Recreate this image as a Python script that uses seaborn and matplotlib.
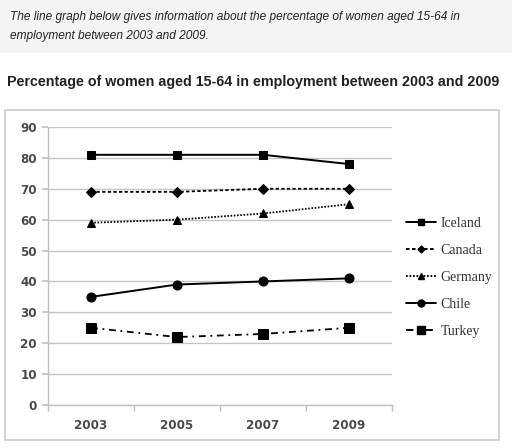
import matplotlib
matplotlib.use("Agg")
import matplotlib.pyplot as plt
import matplotlib.patches as mpatches
from matplotlib.lines import Line2D
import seaborn as sns
import pandas as pd

years = [2003, 2005, 2007, 2009]
countries = ["Iceland", "Canada", "Germany", "Chile", "Turkey"]
iceland = [81, 81, 81, 78]
canada = [69, 69, 70, 70]
germany = [59, 60, 62, 65]
chile = [35, 39, 40, 41]
turkey = [25, 22, 23, 25]

values = [iceland, canada, germany, chile, turkey]
rows = []
for c, v in zip(countries, values):
    for y, p in zip(years, v):
        rows.append({"year": y, "pct": p, "country": c})
df = pd.DataFrame(rows)

markers = {"Iceland": "s", "Canada": "D", "Germany": "^", "Chile": "o", "Turkey": "s"}
styles = {"Iceland": "-", "Canada": (0, (1.8, 1.3)), "Germany": (0, (0.9, 0.9)),
          "Chile": "-", "Turkey": (0, (3.8, 2.6, 1, 2.6))}
msize = {"Iceland": 5.5, "Canada": 5, "Germany": 6, "Chile": 6.5, "Turkey": 7}

sns.set_theme(style="white")
plt.rcParams["font.family"] = ["DejaVu Sans"]

fig = plt.figure(figsize=(5.12, 4.48), dpi=100)

# grey band with the task text
fig.patches.append(mpatches.Rectangle((0, 0.882), 1, 0.118, transform=fig.transFigure,
                                      facecolor="#f4f4f4", edgecolor="none", zorder=0))
fig.text(0.02, 0.962, "The line graph below gives information about the percentage of women aged 15-64 in",
         family="Liberation Sans", style="italic", fontsize=8.6, color="#222", va="center")
fig.text(0.02, 0.92, "employment between 2003 and 2009.",
         family="Liberation Sans", style="italic", fontsize=8.6, color="#222", va="center")
fig.text(0.013, 0.817, "Percentage of women aged 15-64 in employment between 2003 and 2009",
         family="Liberation Sans", weight="bold", fontsize=10.3, color="#222", va="center")

# chart frame
fig.patches.append(mpatches.Rectangle((5 / 512, 1 - 440 / 448), 494 / 512, 330 / 448,
                                      transform=fig.transFigure, facecolor="none",
                                      edgecolor="#cccccc", lw=1.2, zorder=0))

ax = fig.add_axes([48 / 512, 1 - 405 / 448, 344 / 512, 278 / 448])
ax.set_facecolor("none")
ax.set_zorder(3)

for c in countries:
    sub = df[df["country"] == c]
    lw = 1.4 if styles[c] == "-" else 1.3
    sns.lineplot(data=sub, x="year", y="pct", ax=ax, color="black", lw=lw,
                 linestyle=styles[c], marker=markers[c], markersize=msize[c],
                 markeredgecolor="black", legend=False)

ax.set_xlim(2002, 2010)
ax.set_ylim(0, 90)
ax.set_xticks(years)
ax.set_xticks([2002, 2004, 2006, 2008, 2010], minor=True)
ax.set_yticks(range(0, 91, 10))
ax.yaxis.grid(True, color="#c4c4c4", lw=1)
ax.set_axisbelow(True)
for s in ["top", "right"]:
    ax.spines[s].set_visible(False)
for s in ["left", "bottom"]:
    ax.spines[s].set_color("#c0c0c0")
    ax.spines[s].set_linewidth(1)
ax.tick_params(axis="x", which="major", length=0, pad=10, labelcolor="#4a4a4a")
ax.tick_params(axis="x", which="minor", length=4, color="#c0c0c0", bottom=True)
ax.tick_params(axis="y", length=4, color="#c0c0c0", left=True, pad=4, labelcolor="#4a4a4a")
for lab in ax.get_xticklabels() + ax.get_yticklabels():
    lab.set_fontweight("bold")
    lab.set_fontsize(8.6)
ax.set_xlabel("")
ax.set_ylabel("")

handles = []
for c in countries:
    handles.append(Line2D([], [], color="black", lw=1.4, linestyle=styles[c],
                          marker=markers[c], markersize=msize[c] - 1.5))
fig.legend(handles, countries, loc="center left", bbox_to_anchor=(0.768, 0.381),
           frameon=False, prop={"family": "Liberation Serif", "size": 10},
           labelspacing=1.0, handlelength=2.2, handletextpad=0.3, labelcolor="#333")

fig.savefig("out.png", dpi=100)
